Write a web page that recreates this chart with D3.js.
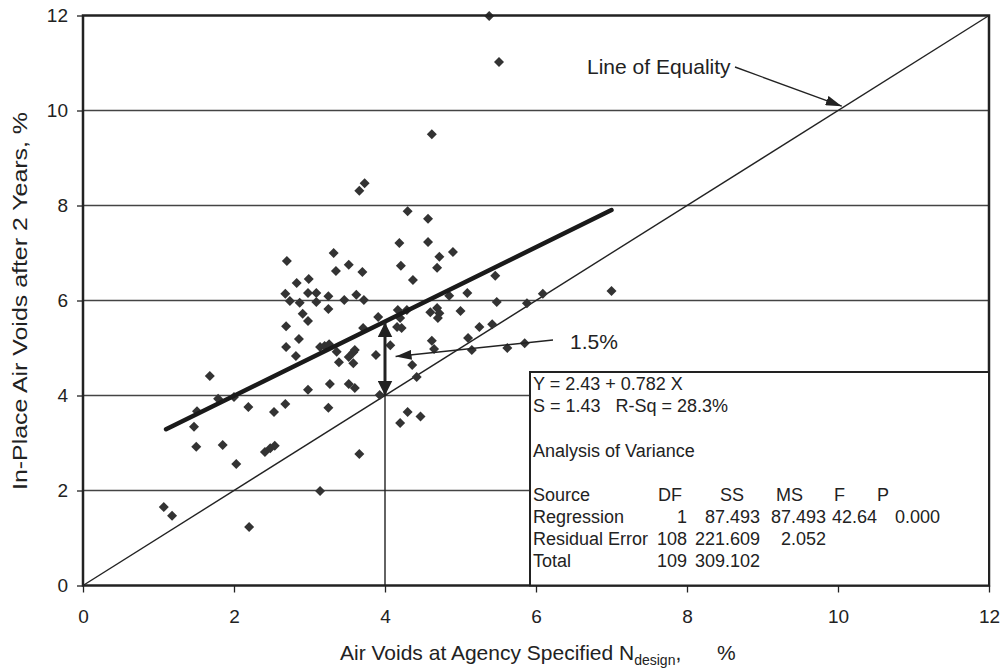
<!DOCTYPE html>
<html><head><meta charset="utf-8">
<script src="https://cdn.jsdelivr.net/npm/d3@7"></script>
<style>
body{margin:0;background:#fff}
svg{display:block}
text{font-family:"Liberation Sans",Arial,Helvetica,sans-serif;fill:#222}
</style>
</head><body><svg id="c" width="1005" height="670"></svg>
<script>
// ---- data ----
const designVoids = [1.07,1.18,2.2,2.03,1.5,1.85,2.41,2.48,2.54,1.47,1.51,1.79,2.0,2.19,2.53,2.68,1.68,2.69,2.69,2.70,
  3.32,3.35,3.52,3.7,2.83,2.99,2.68,2.74,2.87,2.98,3.09,3.09,3.25,3.25,3.46,3.62,3.72,3.91,2.91,2.98,
  3.71,2.86,3.14,3.2,3.26,3.36,2.82,3.39,3.52,3.58,3.58,3.88,2.98,3.27,3.52,3.6,3.25,3.93,3.73,3.66,
  4.3,4.19,4.21,4.37,4.17,4.29,4.2,4.16,4.22,4.62,4.57,4.57,4.72,4.69,4.9,5.46,5.09,4.85,5.48,5.88,
  6.09,4.6,4.69,4.72,4.7,5.0,5.25,5.42,5.1,4.62,4.65,5.15,5.62,5.85,4.36,4.42,4.2,4.3,4.47,7.0,
  4.07,3.66,3.14,5.38,5.51,3.6];
const inPlaceVoids = [1.65,1.47,1.23,2.56,2.92,2.96,2.81,2.89,2.94,3.34,3.67,3.93,3.97,3.76,3.65,3.82,4.41,5.02,5.46,6.83,
  7.0,6.62,6.75,6.6,6.37,6.45,6.14,5.99,5.95,6.16,6.16,5.97,6.09,5.82,6.01,6.12,6.01,5.65,5.72,5.57,
  5.42,5.19,5.02,5.04,5.08,4.92,4.83,4.7,4.81,4.91,4.68,4.85,4.12,4.24,4.24,4.16,3.74,4.01,8.47,8.31,
  7.88,7.21,6.73,6.43,5.8,5.8,5.63,5.44,5.42,9.5,7.72,7.23,6.92,6.69,7.02,6.52,6.16,6.1,5.97,5.94,
  6.14,5.75,5.84,5.73,5.63,5.78,5.44,5.5,5.21,5.15,4.98,4.96,5.0,5.1,4.64,4.39,3.42,3.65,3.56,6.2,
  5.06,2.77,1.99,11.99,11.02,4.96];
const xTicks = [0,2,4,6,8,10,12];
const yTicks = [0,2,4,6,8,10,12];
const gridValues = [2,4,6,8,10];
const regIntercept = 2.43, regSlope = 0.782, regRange = [1.1, 7.0];
const equalityRange = [0, 12];
const refX = 4;               // vertical reference at x = 4
const statsLines = ["Y = 2.43 + 0.782 X", "S = 1.43   R-Sq = 28.3%", "Analysis of Variance"];
const anovaHeader = ["Source","DF","SS","MS","F","P"];
const anovaRows = [
  ["Regression","1","87.493","87.493","42.64","0.000"],
  ["Residual Error","108","221.609","2.052","",""],
  ["Total","109","309.102","","",""]
];

// ---- layout ----
const svg = d3.select("#c");
const x = d3.scaleLinear().domain([0,12]).range([83,989]);
const y = d3.scaleLinear().domain([0,12]).range([585.5,15.5]);
const ink = "#222";

// arrow markers
const defs = svg.append("defs");
defs.append("marker").attr("id","thinHead").attr("viewBox","0 0 16 10").attr("refX",16).attr("refY",5)
  .attr("markerUnits","userSpaceOnUse").attr("markerWidth",16).attr("markerHeight",10).attr("orient","auto")
  .append("path").attr("d","M0,0L16,5L0,10Z").attr("fill",ink);
defs.append("marker").attr("id","thickHead").attr("viewBox","0 0 15 15").attr("refX",15).attr("refY",7.5)
  .attr("markerUnits","userSpaceOnUse").attr("markerWidth",15).attr("markerHeight",15).attr("orient","auto-start-reverse")
  .append("path").attr("d","M0,0L15,7.5L0,15Z").attr("fill",ink);

// gridlines
svg.append("g").selectAll("line").data(gridValues).join("line")
  .attr("x1",x(0)).attr("x2",x(12)).attr("y1",d=>y(d)).attr("y2",d=>y(d))
  .attr("stroke","#444").attr("stroke-width",1.3);

// axes
const yAxis = svg.append("g").attr("transform",`translate(${x(0)},0)`)
  .call(d3.axisLeft(y).tickValues(yTicks).tickSize(6).tickPadding(9).tickFormat(d3.format("d")));
const xAxis = svg.append("g").attr("transform",`translate(0,${y(0)})`)
  .call(d3.axisBottom(x).tickValues(xTicks).tickSize(7).tickPadding(17).tickFormat(d3.format("d")));
[xAxis,yAxis].forEach(g=>{
  g.select(".domain").remove();
  g.selectAll(".tick line").attr("stroke",ink).attr("stroke-width",1.3);
  g.selectAll(".tick text").attr("font-size",19).attr("fill",ink)
   .style("font-family",'"Liberation Sans",Arial,sans-serif');
});

// line of equality
svg.append("line").attr("x1",x(equalityRange[0])).attr("y1",y(equalityRange[0]))
  .attr("x2",x(equalityRange[1])).attr("y2",y(equalityRange[1])).attr("stroke",ink).attr("stroke-width",1.4);

// vertical reference line at x=4 (0 to 4)
svg.append("line").attr("x1",x(refX)).attr("x2",x(refX)).attr("y1",y(0)).attr("y2",y(refX))
  .attr("stroke",ink).attr("stroke-width",1.4);

// points
svg.append("g").selectAll("path").data(designVoids.map((d,i)=>[d,inPlaceVoids[i]])).join("path")
  .attr("d",d3.symbol(d3.symbolSquare,50)())
  .attr("transform",d=>`translate(${x(d[0])},${y(d[1])}) rotate(45)`)
  .attr("fill","#333");

// regression line
svg.append("line").attr("x1",x(regRange[0])).attr("y1",y(regIntercept+regSlope*regRange[0]))
  .attr("x2",x(regRange[1])).attr("y2",y(regIntercept+regSlope*regRange[1]))
  .attr("stroke","#1a1a1a").attr("stroke-width",4.5).attr("stroke-linecap","round");

// double arrow between equality & regression at x=4
svg.append("line").attr("x1",x(refX)).attr("x2",x(refX))
  .attr("y1",y(refX)).attr("y2",y(regIntercept+regSlope*refX)+1)
  .attr("stroke",ink).attr("stroke-width",3)
  .attr("marker-start","url(#thickHead)").attr("marker-end","url(#thickHead)");

// 1.5% annotation
svg.append("line").attr("x1",553).attr("y1",340).attr("x2",x(4.14)).attr("y2",y(4.82))
  .attr("stroke",ink).attr("stroke-width",1.4).attr("marker-end","url(#thinHead)");
svg.append("text").attr("x",570).attr("y",349).attr("font-size",21).text("1.5%");

// Line of Equality annotation
svg.append("text").attr("x",587).attr("y",74).attr("font-size",21).text("Line of Equality");
svg.append("line").attr("x1",735).attr("y1",67).attr("x2",x(10.05)).attr("y2",y(10.05)-2)
  .attr("stroke",ink).attr("stroke-width",1.4).attr("marker-end","url(#thinHead)");

// plot frame
svg.append("rect").attr("x",x(0)).attr("y",y(12)).attr("width",x(12)-x(0)).attr("height",y(0)-y(12))
  .attr("fill","none").attr("stroke",ink).attr("stroke-width",2.5);

// stats box
const box = svg.append("g");
box.append("rect").attr("x",530).attr("y",372).attr("width",x(12)-530).attr("height",y(0)-372)
  .attr("fill","#fff").attr("stroke",ink).attr("stroke-width",2);
const bx = 533;
const statY = [390,412,457];
statsLines.forEach((t,i)=>box.append("text").attr("x",bx).attr("y",statY[i]).attr("font-size",18).attr("xml:space","preserve").text(t));
const headerX = [bx,682,744,803,845,889];
anovaHeader.forEach((t,i)=>box.append("text").attr("x",headerX[i]).attr("y",501)
  .attr("text-anchor",i===0?"start":"end").attr("font-size",18).text(t));
const colEnd = [bx,687,760,826,877,940];
const rowY = [523,545,567];
anovaRows.forEach((row,r)=>row.forEach((t,i)=>{
  if(!t) return;
  box.append("text").attr("x",colEnd[i]).attr("y",rowY[r]).attr("text-anchor",i===0?"start":"end")
    .attr("font-size",18).text(t);
}));

// axis titles
const xt = svg.append("text").attr("x",340).attr("y",660).attr("font-size",21);
xt.append("tspan").text("Air Voids at Agency Specified N");
xt.append("tspan").attr("font-size",14).attr("dy",5).text("design");
xt.append("tspan").attr("dy",-5).text(",");
svg.append("text").attr("x",717).attr("y",660).attr("font-size",21).text("%");

svg.append("text").attr("transform","translate(27,301) rotate(-90)").attr("text-anchor","middle")
  .attr("font-size",20).attr("textLength",378).attr("lengthAdjust","spacingAndGlyphs")
  .text("In-Place Air Voids after 2 Years, %");
</script>
</body></html>
